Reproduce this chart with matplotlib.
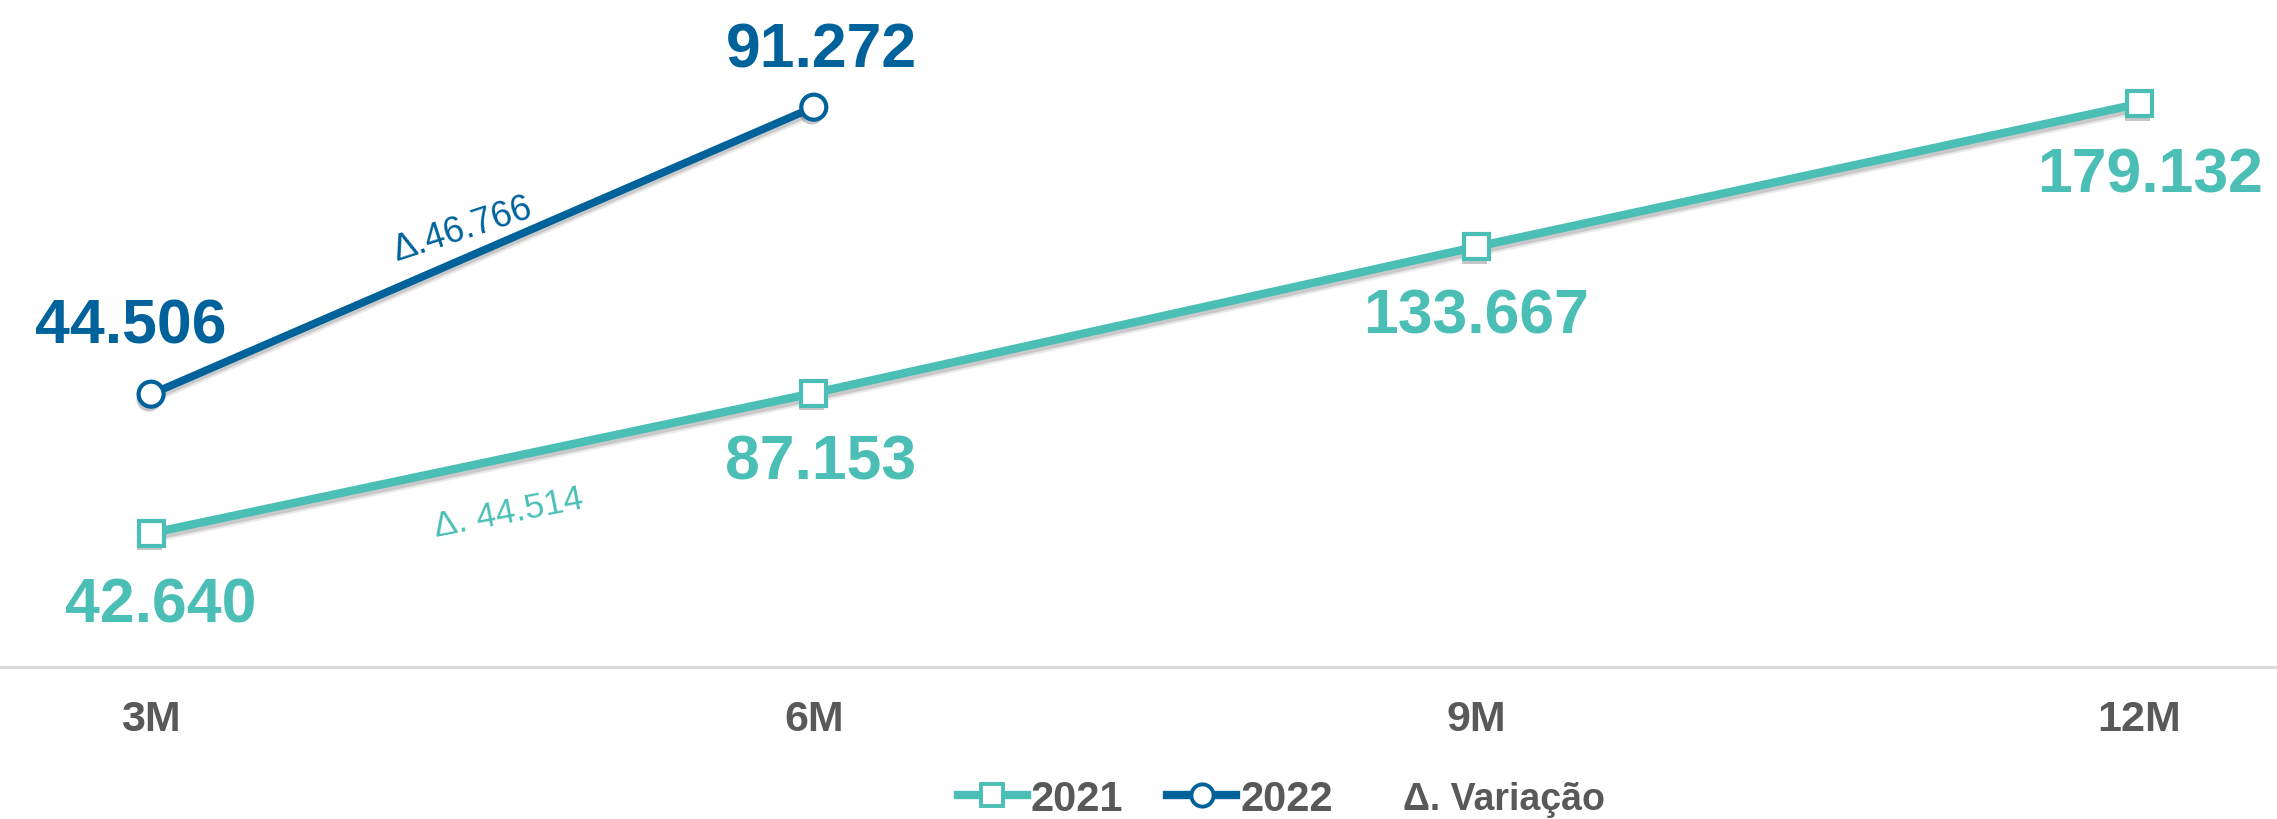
import matplotlib
matplotlib.use('Agg')
import matplotlib.pyplot as plt
from matplotlib.lines import Line2D
import matplotlib.patheffects as pe

categories = ['3M', '6M', '9M', '12M']
values_2021 = [42640, 87153, 133667, 179132]
values_2022 = [44506, 91272]
delta_2021_label = 'Δ. 44.514'
delta_2022_label = 'Δ.46.766'
legend_labels = ['2021', '2022']
legend_note = 'Δ. Variação'

TEAL = '#4BBFB6'
BLUE = '#00629B'
GRAY = '#595959'
plt.rcParams['font.family'] = ['Liberation Sans', 'DejaVu Sans']


def fmt(v):
    return f'{v:,}'.replace(',', '.')


fig = plt.figure(figsize=(22.77, 8.2), dpi=100)
ax1 = fig.add_axes([0, 0.185, 1, 0.815])
ax2 = ax1.twinx()
ax1.set_xlim(-0.228, 3.208)
ax1.set_ylim(0, 212400)
ax2.set_ylim(0, 108900)


def line_fx(lw):
    return [pe.SimpleLineShadow(offset=(-1, -3), shadow_color='#333333', alpha=0.10, linewidth=lw + 3),
            pe.SimpleLineShadow(offset=(-1, -3), shadow_color='#333333', alpha=0.18),
            pe.Normal()]


mark_fx = [pe.SimplePatchShadow(offset=(-1.5, -3.5), shadow_rgbFace='#333333', alpha=0.28), pe.Normal()]

x1 = list(range(len(values_2021)))
x2 = list(range(len(values_2022)))

ax1.plot(x1, values_2021, color=TEAL, lw=6.0, solid_capstyle='butt', path_effects=line_fx(6.0), zorder=2)
ax1.plot(x1, values_2021, ls='none', marker='s', ms=18, mfc='white', mec=TEAL, mew=3,
         path_effects=mark_fx, zorder=3)
ax2.plot(x2, values_2022, color=BLUE, lw=5.6, solid_capstyle='butt', path_effects=line_fx(5.6), zorder=2)
ax2.plot(x2, values_2022, ls='none', marker='o', ms=18, mfc='white', mec=BLUE, mew=3,
         path_effects=mark_fx, zorder=3)

# data labels
offs_2021 = [(10, -72), (7, -69), (0, -69), (11, -71)]
offs_2022 = [(-20, 68), (8, 57)]
for xi, v, o in zip(x1, values_2021, offs_2021):
    ax1.annotate(fmt(v), (xi, v), xytext=o, textcoords='offset pixels', ha='center', va='center',
                 fontsize=45, fontweight='bold', color=TEAL)
for xi, v, o in zip(x2, values_2022, offs_2022):
    ax2.annotate(fmt(v), (xi, v), xytext=o, textcoords='offset pixels', ha='center', va='center',
                 fontsize=45, fontweight='bold', color=BLUE)

# delta labels
ax1.annotate(delta_2021_label, ((x1[0] + x1[1]) / 2, (values_2021[0] + values_2021[1]) / 2),
             xytext=(26, -49), textcoords='offset pixels', ha='center', va='center',
             rotation=11, rotation_mode='anchor', fontsize=25.5, color=TEAL)
ax2.annotate(delta_2022_label, ((x2[0] + x2[1]) / 2, (values_2022[0] + values_2022[1]) / 2),
             xytext=(-20, 22), textcoords='offset pixels', ha='center', va='center',
             rotation=18, rotation_mode='anchor', fontsize=26, color=BLUE)

ax1.set_xticks(x1)
ax1.set_xticklabels(categories, fontsize=31, fontweight='bold', color=GRAY)
ax1.tick_params(axis='x', length=0, pad=23)
ax1.set_yticks([])
ax2.set_yticks([])
for ax in (ax1, ax2):
    for s in ['top', 'left', 'right', 'bottom']:
        ax.spines[s].set_visible(False)
ax1.spines['bottom'].set_visible(True)
ax1.spines['bottom'].set_color('#D9D9D9')
ax1.spines['bottom'].set_linewidth(2.2)

handles = [
    Line2D([], [], color=TEAL, lw=6, marker='s', ms=16, mfc='white', mec=TEAL, mew=2.8),
    Line2D([], [], color=BLUE, lw=6, marker='o', ms=16, mfc='white', mec=BLUE, mew=2.8),
]
leg = fig.legend(handles, legend_labels, loc='center left', bbox_to_anchor=(958 / 2277, 0.0244), ncol=2,
                 frameon=False, prop={'weight': 'bold', 'size': 30}, handlelength=1.65,
                 handletextpad=0.1, columnspacing=1.05, borderpad=0, borderaxespad=0)
for t in leg.get_texts():
    t.set_color(GRAY)
fig.text(1403 / 2277, 0.0244, legend_note, ha='left', va='center', fontsize=27, fontweight='bold', color=GRAY)

fig.savefig('out.png', dpi=100)
